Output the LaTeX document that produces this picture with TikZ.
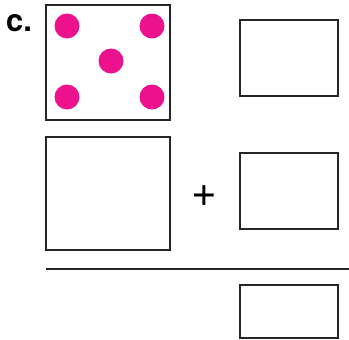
\documentclass[tikz,border=0pt]{standalone}
\usepackage{fontspec}
\setmainfont{TeX Gyre Heros}
\usepackage{tikz}
\usetikzlibrary{calc}
\definecolor{dotpink}{RGB}{236,17,140}
\tikzset{
    box/.style={draw=black!85,line width=2.6pt},
    dot/.style={fill=dotpink}
}

\begin{document}
\begin{tikzpicture}[x=1pt,y=1pt]
%\draw [help lines](0,-340) grid (349,0);
\useasboundingbox (0,0) rectangle (349,-340);
\node [anchor=base west,inner sep=0pt,font=\fontsize{31}{31}\selectfont\bfseries] (lbl) at (6,-31) {c.};
% the five dots
\coordinate (A) at (46,-5);
\coordinate (B) at (170,-120);
\draw [box] (A) rectangle (B);
\foreach \px/\py in {67/-26, 152/-26, 111/-61, 67/-97, 152/-97}
    \fill [dot] (\px,\py) circle (12.5);
\coordinate (C) at (240,-20);
\coordinate (D) at (338,-96);
\draw [box] (C) rectangle (D);
% sum
\coordinate (E) at (46,-137);
\coordinate (F) at (170,-250);
\draw [box] (E) rectangle (F);
\node [inner sep=0pt,font=\fontsize{44}{44}\selectfont] (plus) at (204,-196) {+};
\coordinate (G) at (240,-153);
\coordinate (H) at (338,-229);
\draw [box] (G) rectangle (H);
\coordinate (L1) at (46,-269);
\coordinate (L2) at (349,-269);
\draw [line width=2.6pt,black!85] (L1) -- (L2);
\coordinate (J) at (240,-285);
\coordinate (K) at (338,-338);
\draw [box] (J) rectangle (K);
\end{tikzpicture}
\end{document}
